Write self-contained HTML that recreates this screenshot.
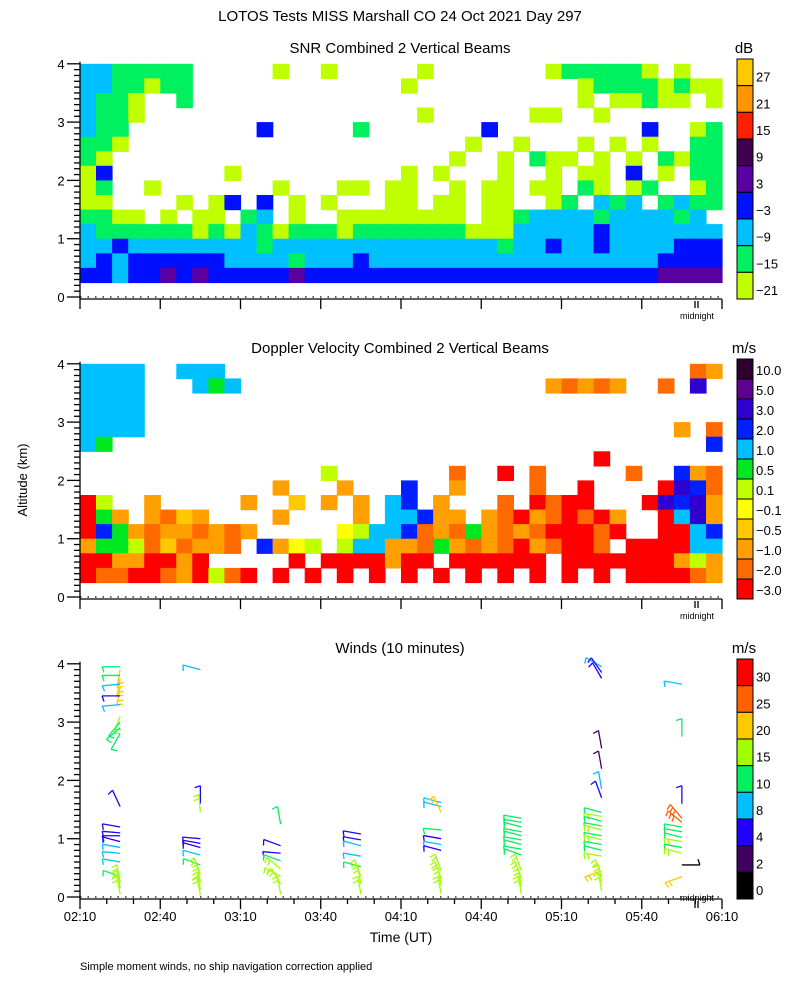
<!DOCTYPE html>
<html><head><meta charset="utf-8"><style>
html,body{margin:0;padding:0;background:#fff;}
svg{display:block;font-family:"Liberation Sans",sans-serif;}
</style></head><body>
<svg id="c" width="800" height="1000" viewBox="0 0 800 1000" xmlns="http://www.w3.org/2000/svg">
<text x="400" y="21" text-anchor="middle" font-size="15">LOTOS Tests MISS Marshall CO  24 Oct 2021 Day 297</text>
<text x="400" y="53" text-anchor="middle" font-size="15">SNR Combined 2 Vertical Beams</text>
<text x="400" y="353" text-anchor="middle" font-size="15">Doppler Velocity Combined 2 Vertical Beams</text>
<text x="400" y="653" text-anchor="middle" font-size="15">Winds (10 minutes)</text>
<text x="744" y="53" text-anchor="middle" font-size="15">dB</text>
<text x="744" y="353" text-anchor="middle" font-size="15">m/s</text>
<text x="744" y="653" text-anchor="middle" font-size="15">m/s</text>
<text transform="translate(27,480) rotate(-90)" text-anchor="middle" font-size="13">Altitude (km)</text>
<text x="401" y="942" text-anchor="middle" font-size="14">Time (UT)</text>
<text x="80" y="970" font-size="11">Simple moment winds, no ship navigation correction applied</text>
<g id="g"></g>
</svg>
<script>
const snrLabels=["27","21","15","9","3","\u22123","\u22129","\u221215","\u221221"];
const snrColors=["#ffc800","#ff9600","#ff2000","#400050","#5800a0","#0010ff","#00c0ff","#00f060","#c0ff00"];
const snrRows=[
"2211111.....0..0.....0.......0111110.0..",
"2211011.............0..........011110100",
"2110..1........................0.00100.0",
"2110.................0......00..0.......",
"211........3.....1.......3.........3..01",
"110.....................0..0...0.0.0..11",
"10.....................0..0.100.0.0.1011",
"03.......0..........0.0...0..0.00.3.0.11",
"01..0.......0...00.00..0.00.00.10.01..01",
"00....0.03.3.0.0...00.00.00..01.212.1211",
"1100.0.00.12.0..00000000.00122221222212",
"2111111010210111011111110002222232222222",
"2232222222212222222222222212232232222333",
"2323333332222122232222222222222222223333",
"3323343433333433333333333333333333334444"];
const dopLabels=["10.0","5.0","3.0","2.0","1.0","0.5","0.1","\u22120.1","\u22120.5","\u22121.0","\u22122.0","\u22123.0"];
const dopColors=["#300030","#600090","#3000d0","#0020ff","#00c0ff","#00e820","#c0ff00","#ffff00","#ffc800","#ffa000","#ff6a00","#ff0000"];
const dopRows=[
"4444..444.............................a9a..a...",
"4444...454...................9a9a9..a.2.",
"4444..............................................",
"4444..............................................",
"4444.................................9.a",
"45.....................................39a",
"................................b..........3.9",
"...............6.......a..b.a.....a..39a",
"............9...9...3..9....a..b....b23a",
"b6..9.....9..8.9.9.43.9...a.babb...b2329",
"b59.9a89....9....9.44399.9ab9abab9..b429",
"b359a99a9a9.....76443a9a59a9abbbab..bb43",
"9556a8a99a.3976.64499a59a9ab9abba.bbbb44",
"bb99bb9b.....b.bbbb9bb.bbbbbb.bbbbbbb969",
"baabba9b6ab.b.b.b.b.b.b.b.b.b.b.b.bbbba9"];
const windLabels=["30","25","20","15","10","8","4","2","0"];
const windColors=["#ff0000","#ff6000","#ffc800","#a0ff00","#00f060","#00c0ff","#2000ff","#400060","#000000"];
const windEdges=[0,2,4,8,10,15,20,25,30];
const xTickLabels=["02:10","02:40","03:10","03:40","04:10","04:40","05:10","05:40","06:10"];
const yTickLabels=["0","1","2","3","4"];
const windTimes=[15,45,75,105,135,165,195,225];
const windAlt=[
[3.95,3.9,3.8,3.75,3.65,3.6,3.45,3.3,3.1,3.0,2.9,2.8,1.55,1.2,1.1,1.05,0.95,0.85,0.75,0.6,0.35,0.25,0.15,0.05],
[3.9,1.6,1.45,1.0,0.92,0.85,0.72,0.55,0.38,0.25,0.12,0.03],
[1.25,0.88,0.75,0.62,0.48,0.35,0.22,0.05],
[1.08,0.98,0.88,0.7,0.52,0.35,0.22,0.05],
[1.62,1.55,1.45,1.15,1.0,0.9,0.8,0.45,0.32,0.2,0.05],
[1.35,1.28,1.2,1.12,1.05,0.98,0.9,0.82,0.72,0.45,0.32,0.18,0.05],
[3.95,3.85,3.75,2.55,2.2,1.85,1.7,1.45,1.38,1.3,1.22,1.15,1.05,0.98,0.9,0.8,0.7,0.45,0.35,0.25,0.1],
[3.65,2.75,1.6,1.35,1.28,1.2,1.12,1.02,0.95,0.85,0.75,0.55,0.35]];
const windSpd=[
[12,22,10,22,9,22,6,8,17,12,10,12,5,6,6,5,7,8,9,9,11,16,17,16],
[9,5,17,6,6,6,9,12,17,17,17,17],
[12,6,6,12,17,17,17,17],
[6,6,9,9,12,17,17,17],
[9,9,22,12,6,9,6,17,17,17,17],
[12,12,12,12,12,12,12,12,12,17,17,17,17],
[9,6,6,3,3,9,6,12,17,12,12,17,12,17,12,12,17,22,17,17,17],
[9,12,6,27,27,12,12,12,17,12,17,1,22]];
const windDir=[
[180,260,180,260,185,260,180,185,250,230,220,240,115,170,175,180,165,170,175,170,160,100,100,100],
[165,90,95,175,170,165,165,160,110,100,100,100],
[100,160,175,160,140,150,120,100],
[170,170,165,170,165,110,100,100],
[165,165,115,175,170,170,165,110,110,100,100],
[170,170,165,170,165,170,165,170,160,110,110,100,100],
[150,125,120,100,100,100,110,165,170,165,170,165,170,165,170,165,170,200,110,100,100],
[170,90,90,130,140,170,170,165,170,170,165,0,200]];

const NS="http://www.w3.org/2000/svg";
const G=document.getElementById('g');
const X0=80,X1=722,TMIN=240;
function xs(t){return X0+t*(X1-X0)/TMIN;}
function ys(a,p){return 297+300*p-a*58.3;}
function mk(tag,at,parent){const e=document.createElementNS(NS,tag);for(const k in at)e.setAttribute(k,at[k]);(parent||G).appendChild(e);return e;}

function heat(rows,colors,p,name,fromBottom){
  const grp=mk('g',{});
  
  
  const nc=40,dt=TMIN/nc;
  rows.forEach((row,ri)=>{
    const aTop=4-ri*0.25,aBot=aTop-0.25;
    for(let ci=0;ci<nc;ci++){
      const ch=row[ci]; if(!ch||ch==='.')continue;
      const v=parseInt(ch,16);
      const col=fromBottom?colors[colors.length-1-v]:colors[v];
      const x=xs(ci*dt),w=xs((ci+1)*dt)-x;
      const y=ys(aTop,p),h=ys(aBot,p)-y;
      const r=mk('rect',{x:x.toFixed(1),y:y.toFixed(1),width:(w+0.6).toFixed(1),height:(h+0.6).toFixed(1),fill:col},grp);
      
      
    }
  });
}
heat(snrRows,snrColors,0,'snr-heatmap',true);
heat(dopRows,dopColors,1,'doppler-heatmap',false);

function spdColor(s){let i=0;for(let k=0;k<windEdges.length;k++)if(s>=windEdges[k])i=k;return windColors[8-i];}
windTimes.forEach((t,gi)=>{
  const bx=xs(t);
  windAlt[gi].forEach((a,i)=>{
    const by=ys(a,2),ang=windDir[gi][i]*Math.PI/180,L=18;
    const ex=bx+L*Math.cos(ang),ey=by-L*Math.sin(ang);
    const col=spdColor(windSpd[gi][i]);
    const b=mk('g',{stroke:col,'stroke-width':1.3,fill:'none'});
    
    
    mk('line',{x1:bx,y1:by,x2:ex,y2:ey},b);
    const ta=ang+Math.PI*0.6;
    const n=Math.max(1,Math.round(windSpd[gi][i]/10));
    for(let k=0;k<n;k++){const f=1-k*0.22;const px=bx+L*f*Math.cos(ang),py=by-L*f*Math.sin(ang);
      mk('line',{x1:px,y1:py,x2:px+6*Math.cos(ta),y2:py-6*Math.sin(ta)},b);}
  });
});

for(let p=0;p<3;p++){
  const ax=mk('g',{stroke:'#000','stroke-width':1.3,fill:'none'});
  
  
  const yb=299+300*p;
  mk('line',{x1:80,y1:yb,x2:722,y2:yb},ax);
  mk('line',{x1:80,y1:yb,x2:80,y2:ys(4,p)-2},ax);
  mk('line',{x1:80,y1:ys(0,p),x2:722,y2:ys(0,p),'stroke-dasharray':'1.5 6','stroke-width':1.2},ax);
  for(let k=0;k<=40;k++){const a=k*0.1,y=ys(a,p);mk('line',{x1:k%10===0?67:74,y1:y,x2:80,y2:y},ax);}
  yTickLabels.forEach((l,i)=>{const t=mk('text',{x:61,y:ys(i,p)+5,'text-anchor':'middle','font-size':13,fill:'#000',stroke:'none'});t.textContent=l;
    });
  for(let m=0;m<=TMIN;m+=(p===2?10:30)){const x=xs(m);const maj=m%30===0;
    mk('line',{x1:x,y1:yb,x2:x,y2:yb+(maj?10:5)},ax);}
  mk('line',{x1:695,y1:yb+2,x2:695,y2:yb+9},ax);mk('line',{x1:698,y1:yb+2,x2:698,y2:yb+9},ax);
  const mt=mk('text',{x:697,y:yb+(p===2?2:20),'text-anchor':'middle','font-size':9,fill:'#000',stroke:'none'});mt.textContent='midnight';
  
}
xTickLabels.forEach((l,i)=>{const t=mk('text',{x:xs(i*30),y:921,'text-anchor':'middle','font-size':13});t.textContent=l;
  });

function cbar(labels,colors,top,bot,name){
  const grp=mk('g',{});
  
  
  const n=colors.length,h=(bot-top)/n;
  colors.forEach((c,i)=>{mk('rect',{x:737,y:top+i*h,width:16,height:h,fill:c,stroke:'#000','stroke-width':1},grp);
    const t=mk('text',{x:756,y:top+(i+1)*h-4,'font-size':13},grp);t.textContent=labels[i];
    });
}
cbar(snrLabels,snrColors,59,299,'snr-colorbar');
cbar(dopLabels,dopColors,359,599,'doppler-colorbar');
cbar(windLabels,windColors,659,899,'winds-colorbar');
</script>
</body></html>
